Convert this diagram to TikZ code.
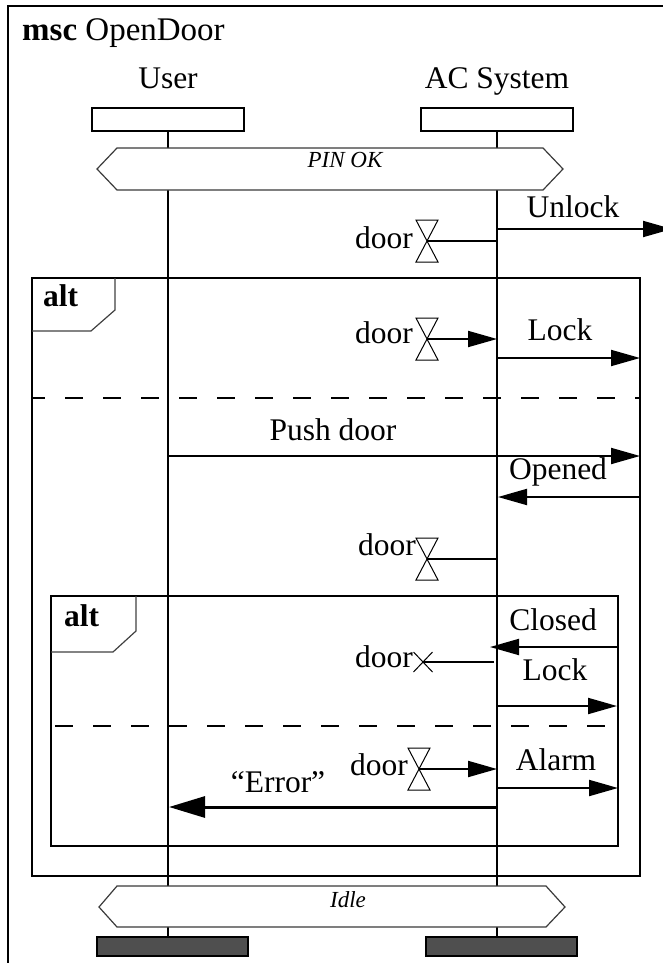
\documentclass[tikz,border=0pt]{standalone}
\usepackage{fontspec}
\setmainfont{Liberation Serif}
\usetikzlibrary{arrows.meta, positioning, calc}
\definecolor{endgray}{HTML}{4F4F4F}
\definecolor{condline}{HTML}{3A3A3A}

\begin{document}
\begin{tikzpicture}[
    x=1pt, y=-1pt,
    txt/.style={inner sep=0pt, font=\fontsize{31.5}{36}\selectfont},
    ttl/.style={inner sep=0pt, font=\fontsize{33}{38}\selectfont},
    condtxt/.style={inner sep=0pt, font=\fontsize{23}{26}\selectfont\itshape},
    head/.style={rectangle, draw, line width=2pt, minimum width=152pt,
                 minimum height=23pt, inner sep=0pt},
    tail/.style={head, fill=endgray, minimum width=151pt, minimum height=19pt},
    timer/.style={rectangle, minimum width=22pt, minimum height=42pt,
                  inner sep=0pt, outer sep=0pt},
    stopx/.style={rectangle, minimum width=19pt, minimum height=20pt,
                  inner sep=0pt, outer sep=0pt},
    frame/.style={line width=2pt},
    tag/.style={line width=1.2pt, black!75},
    cond/.style={line width=1.2pt, draw=condline, fill=white},
    opsep/.style={line width=2pt, dash pattern=on 18pt off 20pt},
    life/.style={line width=2pt},
    msg/.style={line width=2pt, -{Triangle[length=29pt, width=16pt]}},
]
    \useasboundingbox (0,0) rectangle (663,963);
    \clip (0,0) rectangle (663,963);

    % MSC frame and title
    \draw[frame] (8,6) rectangle (720,1020);
    \node[ttl, anchor=base west] (title) at (22,41) {\textbf{msc} OpenDoor};

    % Instances
    \node[txt, anchor=base] (userlbl) at (168,89) {User};
    \node[txt, anchor=base] (aclbl) at (497,89) {AC System};
    \node[head] (uhead) at (168,119.5) {};
    \node[head] (achead) at (497,119.5) {};
    \node[tail] (utail) at (172.5,946.5) {};
    \node[tail] (actail) at (501,946.5) {};

    % Inline frames (alt)
    \draw[frame] (32,278) rectangle (640,876);
    \draw[tag] (32,331) -- (91,331) -- (115,310) -- (115,278);
    \node[txt, anchor=base west] (alt1) at (43,306) {\textbf{alt}};
    \draw[opsep, dash phase=5pt] (32,397.5) -- (640,397.5);

    \draw[frame] (51,596) rectangle (618,846);
    \draw[tag] (51,652) -- (113,652) -- (136,631) -- (136,596);
    \node[txt, anchor=base west] (alt2) at (64,626) {\textbf{alt}};
    \draw[opsep, dash phase=34pt] (51,726) -- (618,726);

    % Lifelines
    \draw[life] (uhead.south) -- (uhead |- utail.north);
    \draw[life] (achead.south) -- (achead |- actail.north);

    % Conditions
    \draw[cond] (97,169) -- (117,148) -- (543,148) -- (563,169) -- (543,190) -- (117,190) -- cycle;
    \node[condtxt, anchor=base] (pinok) at (345,167) {PIN OK};
    \draw[cond] (99,907) -- (117,886) -- (546,886) -- (565,907) -- (546,927) -- (117,927) -- cycle;
    \node[condtxt, anchor=base] (idle) at (348,907) {Idle};

    % Gates on the frames
    \coordinate (gunlock) at (672,229);
    \coordinate (glock) at (640,358);
    \coordinate (gpush) at (640,456);
    \coordinate (gopened) at (640,497);
    \coordinate (gclosed) at (618,647);
    \coordinate (glock2) at (617,706);
    \coordinate (galarm) at (618,788);

    % Timers
    \node[timer] (t1) at (427,241) {};
    \node[timer] (t2) at (427,339) {};
    \node[timer] (t3) at (427,559) {};
    \node[timer] (t4) at (419,769) {};
    \node[stopx] (x1) at (423,662) {};
    \foreach \t in {t1,t2,t3,t4}
        \draw[line width=1pt] (\t.north west) -- (\t.north east) -- (\t.south west) -- (\t.south east) -- cycle;
    \draw[line width=1pt] (x1.north west) -- (x1.south east) (x1.north east) -- (x1.south west);

    \node[txt, anchor=base east] (d1) at (413,248) {door};
    \node[txt, anchor=base east] (d2) at (413,343) {door};
    \node[txt, anchor=base east] (d3) at (416,555) {door};
    \node[txt, anchor=base east] (d4) at (408,775) {door};
    \node[txt, anchor=base east] (d5) at (413,667) {door};

    \draw[life] (t1.center) -- (t1 -| achead);
    \draw[msg] (t2.center) -- (t2 -| achead);
    \draw[life] (t3.center) -- (t3 -| achead);
    \draw[msg] (t4.center) -- (t4 -| achead);
    \draw[life] (x1.center) -- ($(x1 -| achead)+(-3,0)$);

    % Messages
    \draw[msg] ($(gunlock -| achead)+(1,0)$) -- (gunlock);
    \node[txt, anchor=base] (unlock) at (573,217) {Unlock};

    \draw[msg] ($(glock -| achead)+(1,0)$) -- (glock);
    \node[txt, anchor=base] (lock) at (560,340) {Lock};

    \draw[msg] (gpush -| uhead) -- (gpush);
    \node[txt, anchor=base] (push) at (333,440) {Push door};

    \draw[msg] (gopened) -- ($(gopened -| achead)+(1,0)$);
    \node[txt, anchor=base] (opened) at (558,479) {Opened};

    \draw[msg] (gclosed) -- ($(gclosed -| achead)+(-7,0)$);
    \node[txt, anchor=base] (closed) at (553,630) {Closed};

    \draw[msg] (glock2 -| achead) -- (glock2);
    \node[txt, anchor=base] (lock2) at (555,680) {Lock};

    \draw[msg] (galarm -| achead) -- (galarm);
    \node[txt, anchor=base] (alarm) at (556,770) {Alarm};

    \draw[line width=3pt, -{Triangle[length=36pt, width=21pt]}] (achead |- 0,807) -- ($(uhead |- 0,807)+(1,0)$);
    \node[txt, anchor=base] (error) at (278,792) {``Error''};
\end{tikzpicture}
\end{document}
